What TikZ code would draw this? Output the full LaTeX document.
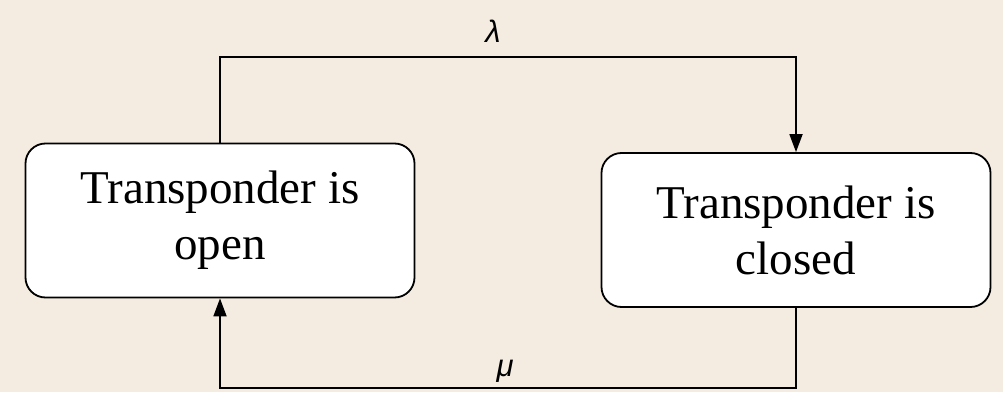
\documentclass[tikz,border=0pt]{standalone}
\usepackage{fontspec}
\setmainfont{Liberation Serif}
\newfontfamily\ratefont{Liberation Sans}
\usepackage{tikz}
\usetikzlibrary{arrows.meta,positioning,calc}
\definecolor{parchment}{HTML}{F4ECE0}
\definecolor{statefill}{HTML}{FFFFFF}

\begin{document}
\begin{tikzpicture}[x=1pt, y=1pt,
  state/.style={draw, line width=1.8pt, rounded corners=20pt, minimum width=389pt, minimum height=154pt, align=center, fill=statefill, font=\fontsize{47}{56}\selectfont},
  rate/.style={font=\ratefont\itshape\fontsize{31}{36}\selectfont, inner sep=0pt},
  arr/.style={-{Triangle[length=18pt, width=13pt]}, line width=1.8pt, black}
]
  \fill[parchment] (0,0) rectangle (1003,392);
  \useasboundingbox (0,0) rectangle (1003,392);

  \node[state] (open) at (220,171.5) {Transponder is\\open};
  \node[state] (closed) at (796,162) {Transponder is\\closed};

  \coordinate (top) at (0,335);
  \coordinate (bot) at (0,4);

  \node[rate, anchor=base] (lam) at (493,350) {λ};
  \node[rate, anchor=base] (mu) at (505,16) {μ};

  \draw[arr] (open.north) -- (open.north |- top) -| (closed.north);
  \draw[arr] (closed.south) -- (closed.south |- bot) -| (open.south);
\end{tikzpicture}
\end{document}
